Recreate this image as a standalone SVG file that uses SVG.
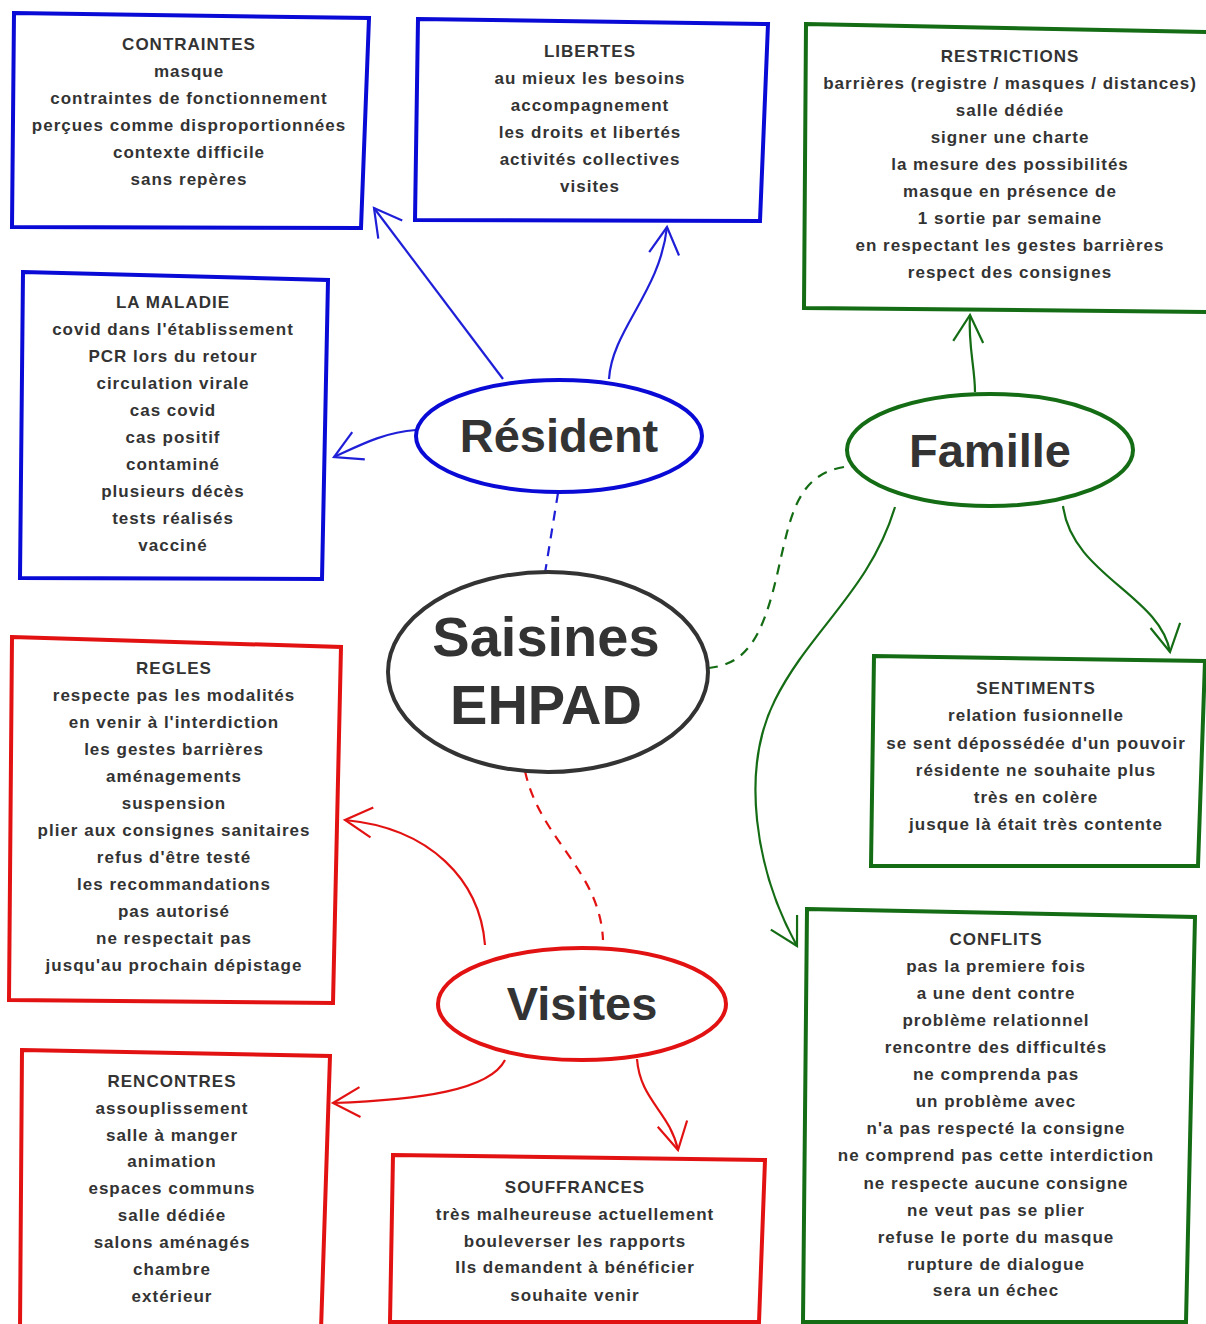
<svg xmlns="http://www.w3.org/2000/svg" width="1206" height="1324" viewBox="0 0 1206 1324">
<style>
.t{font-family:"Liberation Sans",Arial,sans-serif;font-weight:bold;font-size:17px;letter-spacing:1px;fill:#333;text-anchor:middle}
.big{font-family:"Liberation Sans",Arial,sans-serif;font-weight:bold;fill:#333;text-anchor:middle}
.bb{fill:#fff;stroke:#0a0ad6;stroke-width:4;stroke-linejoin:miter}
.gb{fill:#fff;stroke:#146c14;stroke-width:4;stroke-linejoin:miter}
.rb{fill:#fff;stroke:#e31212;stroke-width:4;stroke-linejoin:miter}
.cb{fill:none;stroke:#1f1fd8;stroke-width:2.2}
.cg{fill:none;stroke:#146c14;stroke-width:2.2}
.cr{fill:none;stroke:#e31212;stroke-width:2.2}
.dash{stroke-dasharray:10 8}
</style>
<defs>
<marker id="ab" markerUnits="userSpaceOnUse" markerWidth="40" markerHeight="40" viewBox="-32 -20 40 40" refX="0" refY="0" orient="auto"><path d="M-27,-15 L0,0 L-27,15" fill="none" stroke="#1f1fd8" stroke-width="2.2"/></marker>
<marker id="ag" markerUnits="userSpaceOnUse" markerWidth="40" markerHeight="40" viewBox="-32 -20 40 40" refX="0" refY="0" orient="auto"><path d="M-27,-15 L0,0 L-27,15" fill="none" stroke="#146c14" stroke-width="2.2"/></marker>
<marker id="ar" markerUnits="userSpaceOnUse" markerWidth="40" markerHeight="40" viewBox="-32 -20 40 40" refX="0" refY="0" orient="auto"><path d="M-27,-15 L0,0 L-27,15" fill="none" stroke="#e31212" stroke-width="2.2"/></marker>
</defs>
<rect width="1206" height="1324" fill="#fff"/>

<g id="connectors">
<path class="cb" d="M503,379 L374,208" marker-end="url(#ab)"/>
<path class="cb" d="M609,379 C612,330 660,292 667,227" marker-end="url(#ab)"/>
<path class="cb" d="M416,430 C385,432 360,445 334,457" marker-end="url(#ab)"/>
<path class="cb dash" d="M558,493 L545,573"/>
<path class="cg" d="M975,392 C975,368 968,345 970,315" marker-end="url(#ag)"/>
<path class="cg" d="M1063,506 C1072,575 1160,595 1170,652" marker-end="url(#ag)"/>
<path class="cg" d="M895,507 C870,590 810,630 775,700 C740,770 755,870 797,946" marker-end="url(#ag)"/>
<path class="cg dash" d="M844,467 C795,475 790,520 777,575 C762,640 745,664 709,668"/>
<path class="cr dash" d="M525,771 C540,840 600,870 603,940"/>
<path class="cr" d="M485,945 C480,880 430,828 345,820" marker-end="url(#ar)"/>
<path class="cr" d="M505,1060 C490,1090 420,1100 333,1103" marker-end="url(#ar)"/>
<path class="cr" d="M637,1059 C640,1100 670,1112 678,1150" marker-end="url(#ar)"/>
</g>

<g id="contraintes">
<polygon class="bb" points="14,13 369,18 361,228 12,227"/>
<text class="t" x="189" y="50">CONTRAINTES</text>
<text class="t" x="189" y="77">masque</text>
<text class="t" x="189" y="104">contraintes de fonctionnement</text>
<text class="t" x="189" y="131">perçues comme disproportionnées</text>
<text class="t" x="189" y="158">contexte difficile</text>
<text class="t" x="189" y="185">sans repères</text>
</g>

<g id="libertes">
<polygon class="bb" points="418,19 768,24 760,221 415,220"/>
<text class="t" x="590" y="57">LIBERTES</text>
<text class="t" x="590" y="84">au mieux les besoins</text>
<text class="t" x="590" y="111">accompagnement</text>
<text class="t" x="590" y="138">les droits et libertés</text>
<text class="t" x="590" y="165">activités collectives</text>
<text class="t" x="590" y="192">visites</text>
</g>

<g id="restrictions">
<polygon class="gb" points="806,24 1212,32 1212,312 804,308"/>
<text class="t" x="1010" y="62">RESTRICTIONS</text>
<text class="t" x="1010" y="89">barrières (registre / masques / distances)</text>
<text class="t" x="1010" y="116">salle dédiée</text>
<text class="t" x="1010" y="143">signer une charte</text>
<text class="t" x="1010" y="170">la mesure des possibilités</text>
<text class="t" x="1010" y="197">masque en présence de</text>
<text class="t" x="1010" y="224">1 sortie par semaine</text>
<text class="t" x="1010" y="251">en respectant les gestes barrières</text>
<text class="t" x="1010" y="278">respect des consignes</text>
</g>

<g id="maladie">
<polygon class="bb" points="23,272 328,280 322,579 20,578"/>
<text class="t" x="173" y="308">LA MALADIE</text>
<text class="t" x="173" y="335">covid dans l'établissement</text>
<text class="t" x="173" y="362">PCR lors du retour</text>
<text class="t" x="173" y="389">circulation virale</text>
<text class="t" x="173" y="416">cas covid</text>
<text class="t" x="173" y="443">cas positif</text>
<text class="t" x="173" y="470">contaminé</text>
<text class="t" x="173" y="497">plusieurs décès</text>
<text class="t" x="173" y="524">tests réalisés</text>
<text class="t" x="173" y="551">vacciné</text>
</g>

<g id="regles">
<polygon class="rb" points="12,637 341,647 333,1003 9,1000"/>
<text class="t" x="174" y="674">REGLES</text>
<text class="t" x="174" y="701">respecte pas les modalités</text>
<text class="t" x="174" y="728">en venir à l'interdiction</text>
<text class="t" x="174" y="755">les gestes barrières</text>
<text class="t" x="174" y="782">aménagements</text>
<text class="t" x="174" y="809">suspension</text>
<text class="t" x="174" y="836">plier aux consignes sanitaires</text>
<text class="t" x="174" y="863">refus d'être testé</text>
<text class="t" x="174" y="890">les recommandations</text>
<text class="t" x="174" y="917">pas autorisé</text>
<text class="t" x="174" y="944">ne respectait pas</text>
<text class="t" x="174" y="971">jusqu'au prochain dépistage</text>
</g>

<g id="rencontres">
<polygon class="rb" points="22,1050 330,1056 321,1330 20,1330"/>
<text class="t" x="172" y="1087">RENCONTRES</text>
<text class="t" x="172" y="1114">assouplissement</text>
<text class="t" x="172" y="1141">salle à manger</text>
<text class="t" x="172" y="1167">animation</text>
<text class="t" x="172" y="1194">espaces communs</text>
<text class="t" x="172" y="1221">salle dédiée</text>
<text class="t" x="172" y="1248">salons aménagés</text>
<text class="t" x="172" y="1275">chambre</text>
<text class="t" x="172" y="1302">extérieur</text>
</g>

<g id="souffrances">
<polygon class="rb" points="393,1155 765,1160 759,1322 390,1322"/>
<text class="t" x="575" y="1193">SOUFFRANCES</text>
<text class="t" x="575" y="1220">très malheureuse actuellement</text>
<text class="t" x="575" y="1247">bouleverser les rapports</text>
<text class="t" x="575" y="1273">Ils demandent à bénéficier</text>
<text class="t" x="575" y="1301">souhaite venir</text>
</g>

<g id="sentiments">
<polygon class="gb" points="874,656 1205,661 1198,866 871,866"/>
<text class="t" x="1036" y="694">SENTIMENTS</text>
<text class="t" x="1036" y="721">relation fusionnelle</text>
<text class="t" x="1036" y="749">se sent dépossédée d'un pouvoir</text>
<text class="t" x="1036" y="776">résidente ne souhaite plus</text>
<text class="t" x="1036" y="803">très en colère</text>
<text class="t" x="1036" y="830">jusque là était très contente</text>
</g>

<g id="conflits">
<polygon class="gb" points="807,909 1195,917 1186,1322 803,1322"/>
<text class="t" x="996" y="945">CONFLITS</text>
<text class="t" x="996" y="972">pas la premiere fois</text>
<text class="t" x="996" y="999">a une dent contre</text>
<text class="t" x="996" y="1026">problème relationnel</text>
<text class="t" x="996" y="1053">rencontre des difficultés</text>
<text class="t" x="996" y="1080">ne comprenda pas</text>
<text class="t" x="996" y="1107">un problème avec</text>
<text class="t" x="996" y="1134">n'a pas respecté la consigne</text>
<text class="t" x="996" y="1161">ne comprend pas cette interdiction</text>
<text class="t" x="996" y="1189">ne respecte aucune consigne</text>
<text class="t" x="996" y="1216">ne veut pas se plier</text>
<text class="t" x="996" y="1243">refuse le porte du masque</text>
<text class="t" x="996" y="1270">rupture de dialogue</text>
<text class="t" x="996" y="1296">sera un échec</text>
</g>

<g id="resident">
<ellipse cx="559" cy="436" rx="143" ry="56" fill="#fff" stroke="#0a0ad6" stroke-width="4"/>
<text class="big" x="559" y="452" font-size="47">Résident</text>
</g>

<g id="famille">
<ellipse cx="990" cy="450" rx="143" ry="56" fill="#fff" stroke="#146c14" stroke-width="4"/>
<text class="big" x="990" y="467" font-size="47">Famille</text>
</g>

<g id="saisines">
<ellipse cx="548" cy="672" rx="160" ry="100" fill="#fff" stroke="#333" stroke-width="4"/>
<text class="big" x="546" y="656" font-size="56">Saisines</text>
<text class="big" x="546" y="724" font-size="56">EHPAD</text>
</g>

<g id="visites">
<ellipse cx="582" cy="1004" rx="144" ry="56" fill="#fff" stroke="#e31212" stroke-width="4"/>
<text class="big" x="582" y="1020" font-size="47">Visites</text>
</g>
</svg>
